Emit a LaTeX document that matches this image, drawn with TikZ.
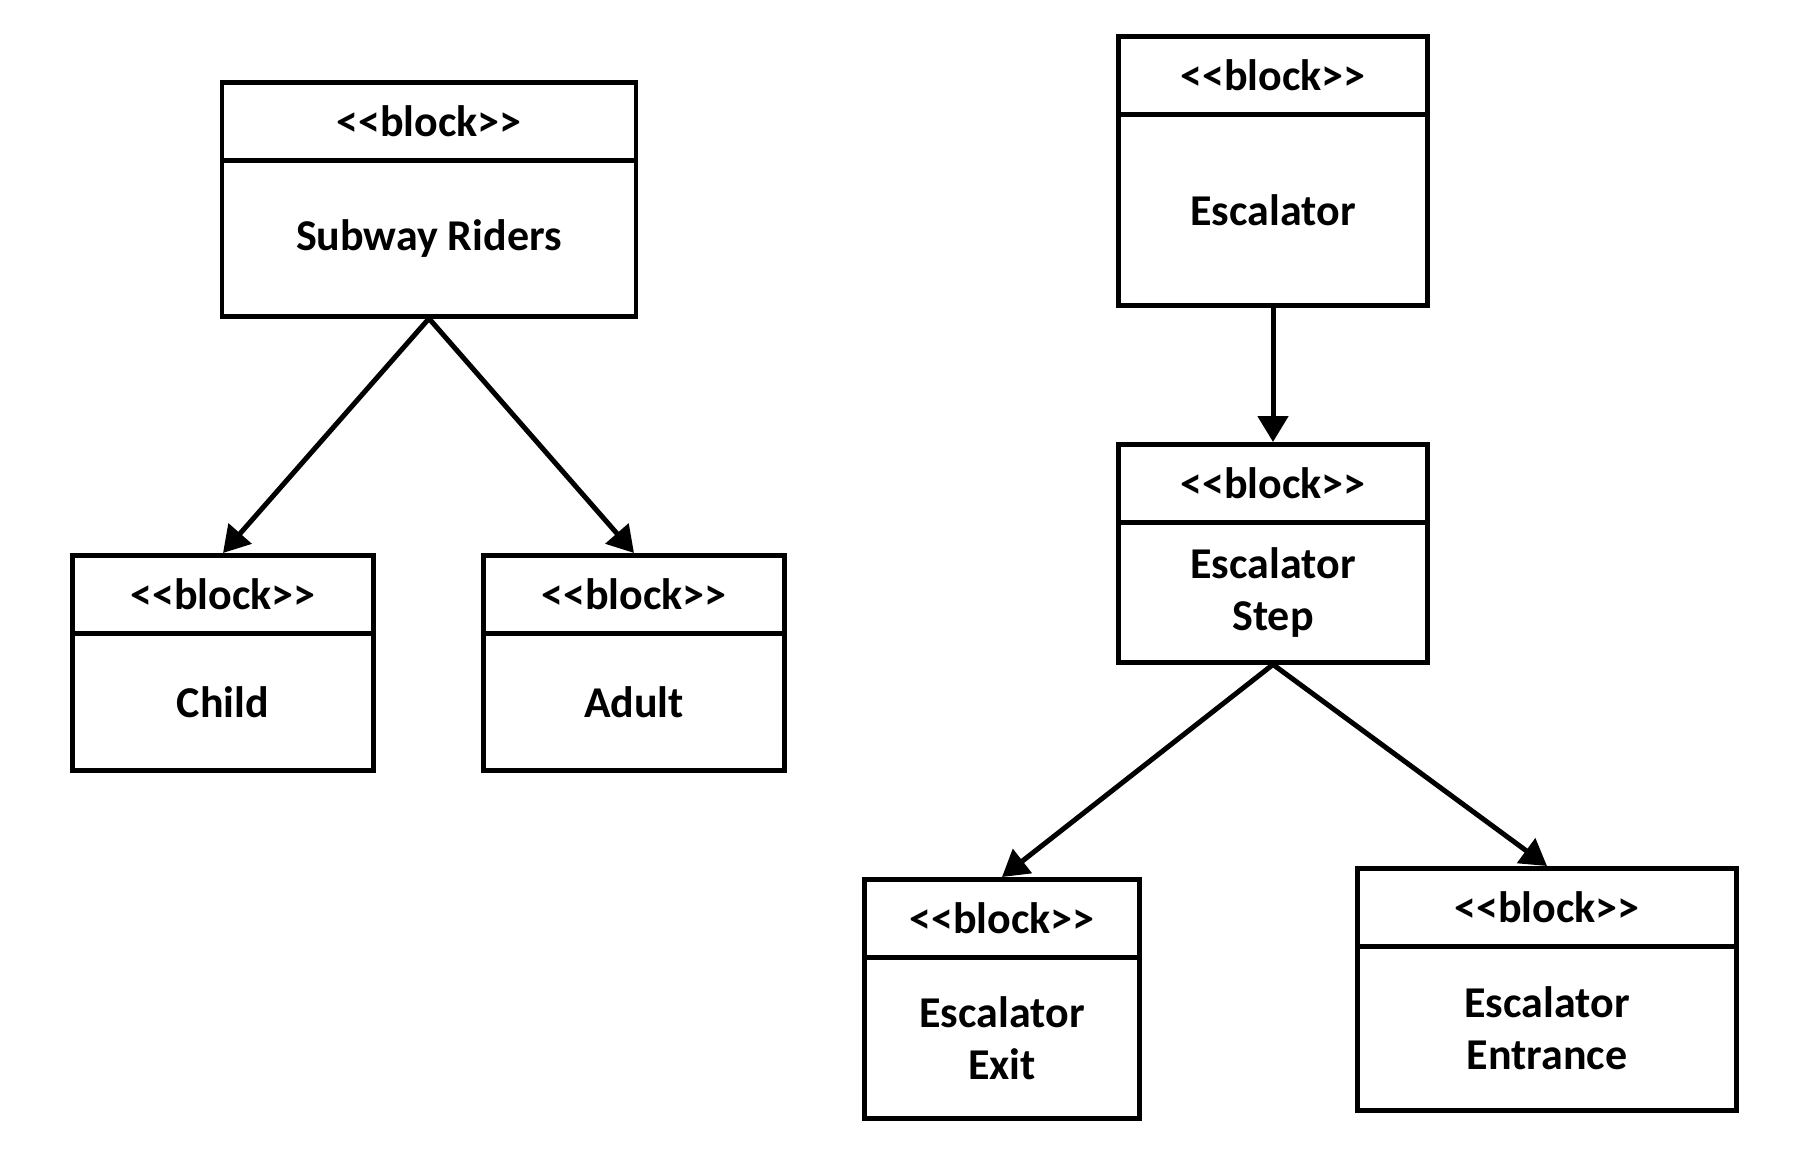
\documentclass[tikz,border=0pt]{standalone}
\usepackage{fontspec}
\newfontfamily\blockfont{Carlito}
\usepackage{tikz}
\usetikzlibrary{arrows.meta}

\begin{document}
\begin{tikzpicture}[
x=1pt, y=-1pt,
blockhead/.style={
  rectangle,
  draw=black,
  line width=4.5pt,
  minimum height=78pt,
  inner sep=0pt,
  anchor=north,
  font=\blockfont\fontsize{44}{52}\selectfont\bfseries
},
blockbody/.style={
  rectangle,
  draw=black,
  line width=4.5pt,
  inner sep=0pt,
  anchor=north,
  align=center,
  font=\blockfont\fontsize{44}{52}\selectfont\bfseries
},
  arr/.style={-{Triangle[length=26pt, width=30pt]}, line width=5pt, black}
]
\useasboundingbox (0,0) rectangle (1802,1154);

% ---- LEFT: riders ----
\node[blockhead, minimum width=414pt] (ridersh) at (429, 80) {<<block>>};
\node[blockbody, minimum width=414pt, minimum height=156pt] (riders) at (429, 158) {Subway Riders};

\node[blockhead, minimum width=301pt] (childh) at (223, 553) {<<block>>};
\node[blockbody, minimum width=301pt, minimum height=137pt] (child) at (223, 631) {Child};

\node[blockhead, minimum width=301pt] (adulth) at (634, 553) {<<block>>};
\node[blockbody, minimum width=301pt, minimum height=137pt] (adult) at (634, 631) {Adult};

\draw[arr] (riders.south) -- (childh.north);
\draw[arr] (riders.south) -- (adulth.north);

% ---- RIGHT: escalator ----
\node[blockhead, minimum width=309pt] (escalatorh) at (1273, 34) {<<block>>};
\node[blockbody, minimum width=309pt, minimum height=191pt] (escalator) at (1273, 112) {Escalator};

\node[blockhead, minimum width=309pt] (steph) at (1273, 442) {<<block>>};
\node[blockbody, minimum width=309pt, minimum height=140pt] (step) at (1273, 520) {Escalator\\Step};

\node[blockhead, minimum width=275pt] (exith) at (1002, 877) {<<block>>};
\node[blockbody, minimum width=275pt, minimum height=161pt] (exit) at (1002, 955) {Escalator\\Exit};

\node[blockhead, minimum width=379pt] (entranceh) at (1547, 866) {<<block>>};
\node[blockbody, minimum width=379pt, minimum height=164pt] (entrance) at (1547, 944) {Escalator\\Entrance};

\draw[arr] (escalator.south) -- (steph.north);
\draw[arr] (step.south) -- (exith.north);
\draw[arr] (step.south) -- (entranceh.north);

\end{tikzpicture}
\end{document}
